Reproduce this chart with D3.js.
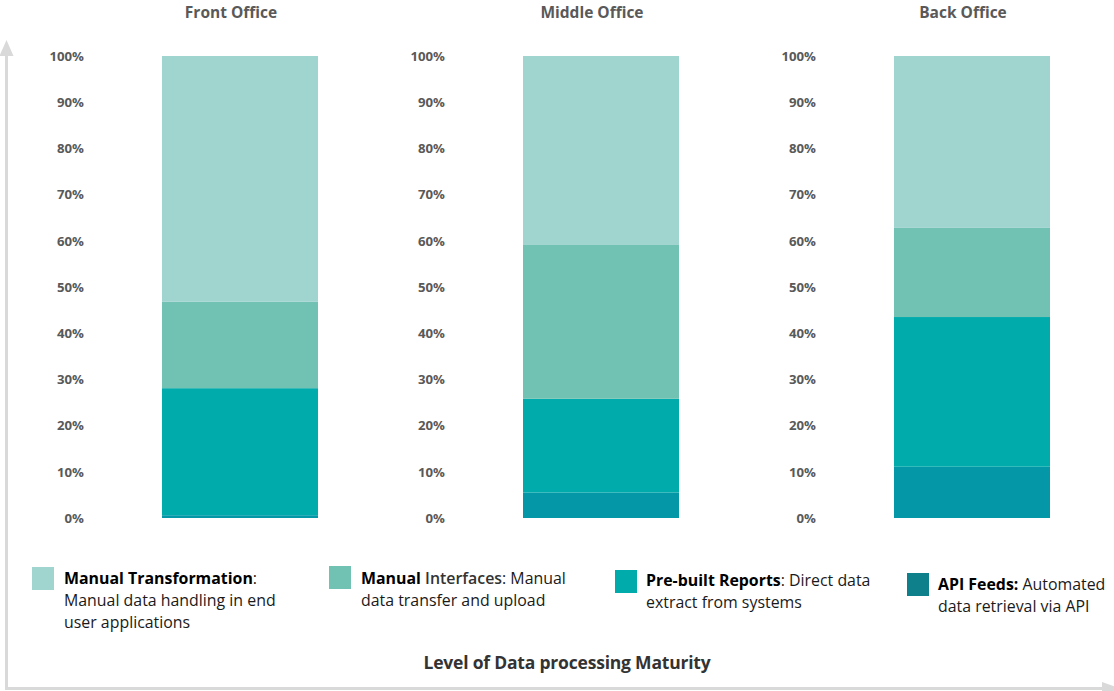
<!DOCTYPE html>
<html>
<head>
<meta charset="utf-8">
<script src="https://cdn.jsdelivr.net/npm/d3@7"></script>
<style>
  html, body { margin: 0; padding: 0; background: #fff; }
  svg { display: block; font-family: "Open Sans", "Noto Sans", sans-serif; }
</style>
</head>
<body>
<svg id="chart" width="1114" height="691"></svg>
<script>
// Share of data processing by maturity level, per office (percent, stacked bottom-up)
const offices = ["Front Office", "Middle Office", "Back Office"];
const seriesKeys = ["API Feeds", "Pre-built Reports", "Manual Interfaces", "Manual Transformation"];
const apiFeeds = [0.6, 5.5, 11.1];
const prebuiltReports = [27.5, 20.3, 32.4];
const manualInterfaces = [18.7, 33.3, 19.3];
const manualTransformation = [53.2, 40.9, 37.2];
const yTicks = [0, 10, 20, 30, 40, 50, 60, 70, 80, 90, 100];

const legendItems = [
  { key: "Manual Transformation", lines: [[["Manual Transformation", "b"], [":", "n"]], [["Manual data handling in end", "n"]], [["user applications", "n"]]] },
  { key: "Manual Interfaces", lines: [[["Manual", "b"], [" Interfaces", "s"], [": Manual", "n"]], [["data transfer and upload", "n"]]] },
  { key: "Pre-built Reports", lines: [[["Pre-built Reports", "b"], [": Direct data", "n"]], [["extract from systems", "n"]]] },
  { key: "API Feeds", lines: [[["API Feeds:", "b"], [" Automated", "n"]], [["data retrieval via API", "n"]]] }
];

const barColor = d3.scaleOrdinal(seriesKeys, ["#0397a8", "#00abab", "#72c2b4", "#9fd4cf"]);
const swatchColor = d3.scaleOrdinal(seriesKeys, ["#0e808c", "#00abab", "#72c2b4", "#9fd4cf"]);

const rows = offices.map((o, i) => ({
  office: o,
  "API Feeds": apiFeeds[i],
  "Pre-built Reports": prebuiltReports[i],
  "Manual Interfaces": manualInterfaces[i],
  "Manual Transformation": manualTransformation[i]
}));
const stacked = d3.stack().keys(seriesKeys)(rows);

const svg = d3.select("#chart");

// panel layout
const panelX = d3.scaleOrdinal(offices, [0, 361, 732]);
const axisX = 88;
const barLeft = 162, barWidth = 156;
const y = d3.scaleLinear().domain([0, 100]).range([518, 56]);

// frame arrows (left up, bottom right)
const frame = svg.append("g").attr("fill", "#d9d9d9");
svg.append("line").attr("x1", 6.5).attr("x2", 6.5).attr("y1", 54).attr("y2", 688)
  .attr("stroke", "#d9d9d9").attr("stroke-width", 3);
frame.append("path").attr("d", "M6.5,40 L13.5,56 L-0.5,56 Z");
svg.append("line").attr("x1", 5).attr("x2", 1104).attr("y1", 688.5).attr("y2", 688.5)
  .attr("stroke", "#d9d9d9").attr("stroke-width", 3);
frame.append("path").attr("d", "M1102,682 L1120,688.5 L1102,695 Z");

offices.forEach((office, i) => {
  const g = svg.append("g").attr("transform", `translate(${panelX(office)},0)`);

  // title
  g.append("text")
    .attr("x", barLeft + barWidth / 2 - 9).attr("y", 18)
    .attr("text-anchor", "middle")
    .attr("font-size", 15.5).attr("font-weight", 700).attr("fill", "#595959")
    .text(office);

  // y axis labels
  const ax = g.append("g").attr("transform", `translate(${axisX},0)`)
    .call(d3.axisLeft(y).tickValues(yTicks).tickSize(0).tickPadding(4).tickFormat(d => d + "%"));
  ax.select(".domain").remove();
  ax.selectAll("text")
    .attr("font-family", "\"Open Sans\", sans-serif")
    .attr("font-size", 13.2).attr("font-weight", 700).attr("fill", "#595959");

  // stacked bar
  g.selectAll("rect.seg")
    .data(stacked.map(s => ({ key: s.key, v: s[i] })))
    .join("rect")
    .attr("class", "seg")
    .attr("x", barLeft).attr("width", barWidth)
    .attr("y", d => y(d.v[1]))
    .attr("height", d => y(d.v[0]) - y(d.v[1]))
    .attr("fill", d => barColor(d.key));
});

// legend
const legendPos = [
  { sx: 32, sy: 567, tx: 64, ty: 584 },
  { sx: 329, sy: 566, tx: 361, ty: 584 },
  { sx: 615, sy: 570, tx: 646, ty: 586 },
  { sx: 907, sy: 573, tx: 938, ty: 590 }
];
const lineH = 22;
legendItems.forEach((item, i) => {
  const p = legendPos[i];
  svg.append("rect").attr("x", p.sx).attr("y", p.sy).attr("width", 22).attr("height", 23)
    .attr("fill", swatchColor(item.key));
  const t = svg.append("text").attr("font-size", 15.9).attr("fill", "#1a1a1a");
  item.lines.forEach((line, li) => {
    line.forEach((part, pi) => {
      const ts = t.append("tspan").text(part[0]);
      if (pi === 0) ts.attr("x", p.tx).attr("y", p.ty + li * lineH);
      if (part[1] === "b") ts.attr("font-weight", 700).attr("fill", "#000");
      if (part[1] === "s") ts.attr("font-weight", 600).attr("fill", "#333");
    });
  });
});

// axis caption
svg.append("text")
  .attr("x", 567).attr("y", 669)
  .attr("text-anchor", "middle")
  .attr("font-size", 17.5).attr("font-weight", 700).attr("fill", "#333")
  .attr("letter-spacing", -0.2)
  .text("Level of Data processing Maturity");
</script>
</body>
</html>
